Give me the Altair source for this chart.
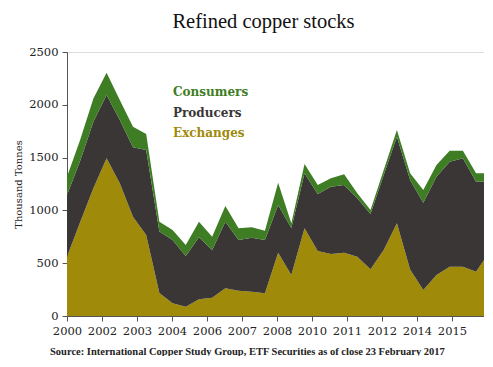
import altair as alt
import pandas as pd

# semi-annual observations (decimal years), last point = latest reading
years = [2000 + 0.5 * i for i in range(32)] + [2015.8]

exchanges = [560, 890, 1210, 1493, 1256, 940, 767, 218, 120, 88, 158, 173, 262,
             240, 230, 215, 600, 388, 830, 615, 587, 600, 562, 442, 625, 878,
             440, 246, 388, 467, 467, 420, 530]
producers = [586, 580, 630, 600, 600, 657, 805, 582, 600, 480, 587, 452, 631,
             480, 511, 505, 451, 445, 521, 540, 638, 640, 552, 524, 710, 820,
             848, 827, 931, 994, 1026, 852, 742]
consumers = [173, 200, 220, 211, 189, 196, 151, 93, 94, 104, 148, 126, 149,
             110, 99, 88, 211, 45, 88, 85, 79, 102, 48, 38, 48, 63, 63, 120,
             111, 104, 72, 79, 79]

series_names = ["Consumers", "Producers", "Exchanges"]
series_colors = ["#3e7d24", "#3a3636", "#a08a0a"]
tick_labels = ["2000", "2002", "2003", "2004", "2006", "2007", "2008",
               "2010", "2011", "2012", "2014", "2015"]
y_ticks = [0, 500, 1000, 1500, 2000, 2500]
title_text = "Refined copper stocks"
source_text = "Source: International Copper Study Group, ETF Securities as of close 23 February 2017"

x_start, x_end = 2000, 2015.8
W, H = 417, 264
step = (x_end - x_start) * 35 / W
tick_pos = [x_start + k * step for k in range(len(tick_labels))]

rows = []
for order, (name, vals) in enumerate([("Exchanges", exchanges),
                                      ("Producers", producers),
                                      ("Consumers", consumers)]):
    for yr, v in zip(years, vals):
        rows.append({"year": yr, "series": name, "value": v, "ord": order})
df = pd.DataFrame(rows)

label_arr = "[" + ",".join("'%s'" % t for t in tick_labels) + "]"
label_expr = "%s[round((datum.value - %d) / %f)]" % (label_arr, x_start, step)

color_scale = alt.Scale(domain=series_names, range=series_colors)

area = alt.Chart(df).mark_area(interpolate="linear").encode(
    x=alt.X("year:Q", scale=alt.Scale(domain=[x_start, x_end], nice=False, zero=False),
            axis=alt.Axis(values=tick_pos, labelExpr=label_expr, title=None,
                          grid=False, tickSize=5, labelPadding=4,
                          labelFont="DejaVu Serif", labelFontSize=11.5,
                          labelColor="#222", domainColor="#555", tickColor="#555",
                          labelFlush=False)),
    y=alt.Y("value:Q", stack="zero",
            scale=alt.Scale(domain=[0, 2500], nice=False),
            axis=alt.Axis(values=y_ticks, format="d", grid=False, tickSize=5,
                          labelPadding=4,
                          title="Thousand Tonnes", titleFont="DejaVu Serif",
                          titleFontSize=10, titleFontWeight="normal",
                          titleColor="#222", titleX=-44, titleY=H / 2,
                          labelFont="DejaVu Serif", labelFontSize=11.5,
                          labelColor="#222", domainColor="#555", tickColor="#555")),
    color=alt.Color("series:N", scale=color_scale, legend=None),
    order=alt.Order("ord:Q"),
)

layers = [area]
for i, (name, col) in enumerate(zip(series_names, series_colors)):
    layers.append(
        alt.Chart(pd.DataFrame({"t": [name]})).mark_text(
            align="left", baseline="middle", font="DejaVu Serif", fontSize=12,
            fontWeight="bold", color=col
        ).encode(x=alt.value(106), y=alt.value(40 + 20.5 * i), text="t:N")
    )

layers.append(
    alt.Chart(pd.DataFrame({"t": [title_text]})).mark_text(
        align="center", baseline="alphabetic", font="Liberation Serif", fontSize=20.5,
        color="#111"
    ).encode(x=alt.value(W / 2 - 12), y=alt.value(-24), text="t:N")
)
layers.append(
    alt.Chart(pd.DataFrame({"t": [source_text]})).mark_text(
        align="left", baseline="middle", font="Liberation Serif", fontSize=10.5,
        fontWeight="bold", color="#222"
    ).encode(x=alt.value(-17), y=alt.value(H + 36), text="t:N")
)

chart = alt.layer(*layers).properties(
    width=W, height=H,
    autosize=alt.AutoSizeParams(type="none"),
    padding={"left": 59, "top": 44, "right": 0, "bottom": 40},
).configure_view(stroke=None).configure(background="white")

chart.save("out.html", embed_options={"renderer": "svg", "actions": False})
